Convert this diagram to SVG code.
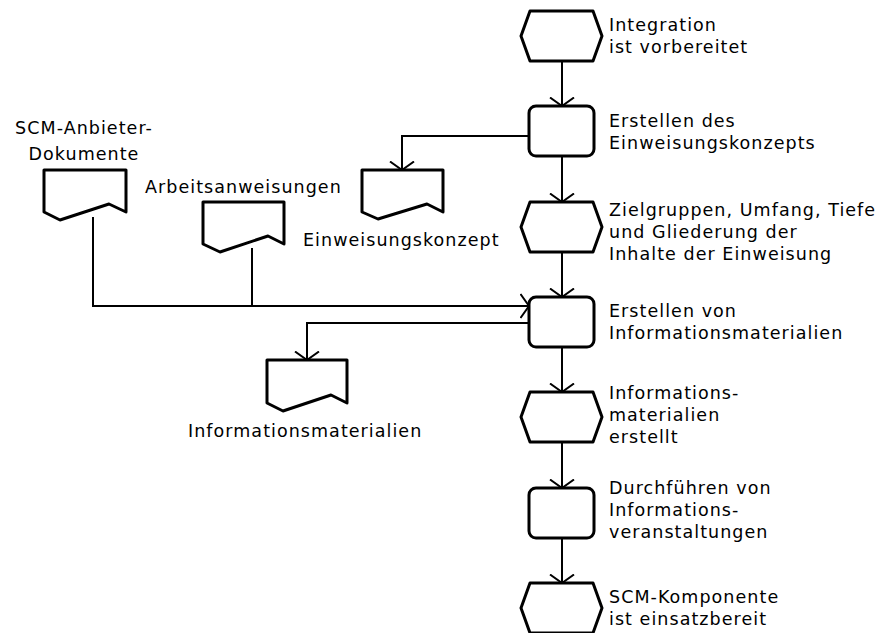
<svg xmlns="http://www.w3.org/2000/svg" width="880" height="633" viewBox="0 0 880 633">
<style>
.shape{fill:#fff;stroke:#000;stroke-width:3;stroke-linejoin:round}
.con{fill:none;stroke:#000;stroke-width:2}
text{font-family:"DejaVu Sans",Verdana,sans-serif;font-size:17.5px;letter-spacing:1.05px;fill:#000}
</style>
<defs>
<marker id="arr" viewBox="0 0 11 26" refX="9.5" refY="13" markerWidth="11" markerHeight="26" markerUnits="userSpaceOnUse" orient="auto">
<path d="M1,1 L9.5,13 L1,25" fill="none" stroke="#000" stroke-width="2"/>
</marker>
<path id="hex" d="M9,0 H72 L81,25 L72,50 H9 L0,25 Z"/>
</defs>
<g id="connectors">
<path class="con" d="M562,61 V106" marker-end="url(#arr)"/>
<path class="con" d="M529,136 H402 V170" marker-end="url(#arr)"/>
<path class="con" d="M562,156 V202" marker-end="url(#arr)"/>
<path class="con" d="M562,252 V297" marker-end="url(#arr)"/>
<path class="con" d="M93,217 V306 H529" marker-end="url(#arr)"/>
<path class="con" d="M252,248 V306"/>
<path class="con" d="M529,323 H307 V360" marker-end="url(#arr)"/>
<path class="con" d="M562,347 V392" marker-end="url(#arr)"/>
<path class="con" d="M562,442 V488" marker-end="url(#arr)"/>
<path class="con" d="M562,538 V583" marker-end="url(#arr)"/>
</g>
<g id="e1"><use href="#hex" class="shape" x="521" y="11"/><text x="609" y="31">Integration</text><text x="609" y="53">ist vorbereitet</text></g>
<g id="f1"><rect class="shape" x="529" y="106" width="65" height="50" rx="7"/><text x="609" y="127">Erstellen des</text><text x="609" y="149">Einweisungskonzepts</text></g>
<g id="d1"><path class="shape" d="M362,170 H443 V212 L427,204 L378,219 L362,212 Z"/><text x="303" y="246">Einweisungskonzept</text></g>
<g id="e2"><use href="#hex" class="shape" x="521" y="202"/><text x="609" y="216">Zielgruppen, Umfang, Tiefe</text><text x="609" y="238">und Gliederung der</text><text x="609" y="260">Inhalte der Einweisung</text></g>
<g id="d2"><path class="shape" d="M44,170 H126 V212 L109,204 L60,220 L44,212 Z"/><text x="84" y="134" text-anchor="middle">SCM-Anbieter-</text><text x="84" y="160" text-anchor="middle">Dokumente</text></g>
<g id="d3"><path class="shape" d="M203,202 H284 V244 L268,236 L220,252 L203,244 Z"/><text x="145" y="193">Arbeitsanweisungen</text></g>
<g id="f2"><rect class="shape" x="529" y="297" width="65" height="50" rx="7"/><text x="609" y="317">Erstellen von</text><text x="609" y="339">Informationsmaterialien</text></g>
<g id="d4"><path class="shape" d="M267,360 H347 V403 L331,395 L283,411 L267,403 Z"/><text x="188" y="437">Informationsmaterialien</text></g>
<g id="e3"><use href="#hex" class="shape" x="521" y="392"/><text x="609" y="399">Informations-</text><text x="609" y="421">materialien</text><text x="609" y="443">erstellt</text></g>
<g id="f3"><rect class="shape" x="529" y="488" width="65" height="50" rx="7"/><text x="609" y="494">Durchführen von</text><text x="609" y="516">Informations-</text><text x="609" y="538">veranstaltungen</text></g>
<g id="e4"><use href="#hex" class="shape" x="521" y="583"/><text x="609" y="603">SCM-Komponente</text><text x="609" y="625">ist einsatzbereit</text></g>
</svg>
